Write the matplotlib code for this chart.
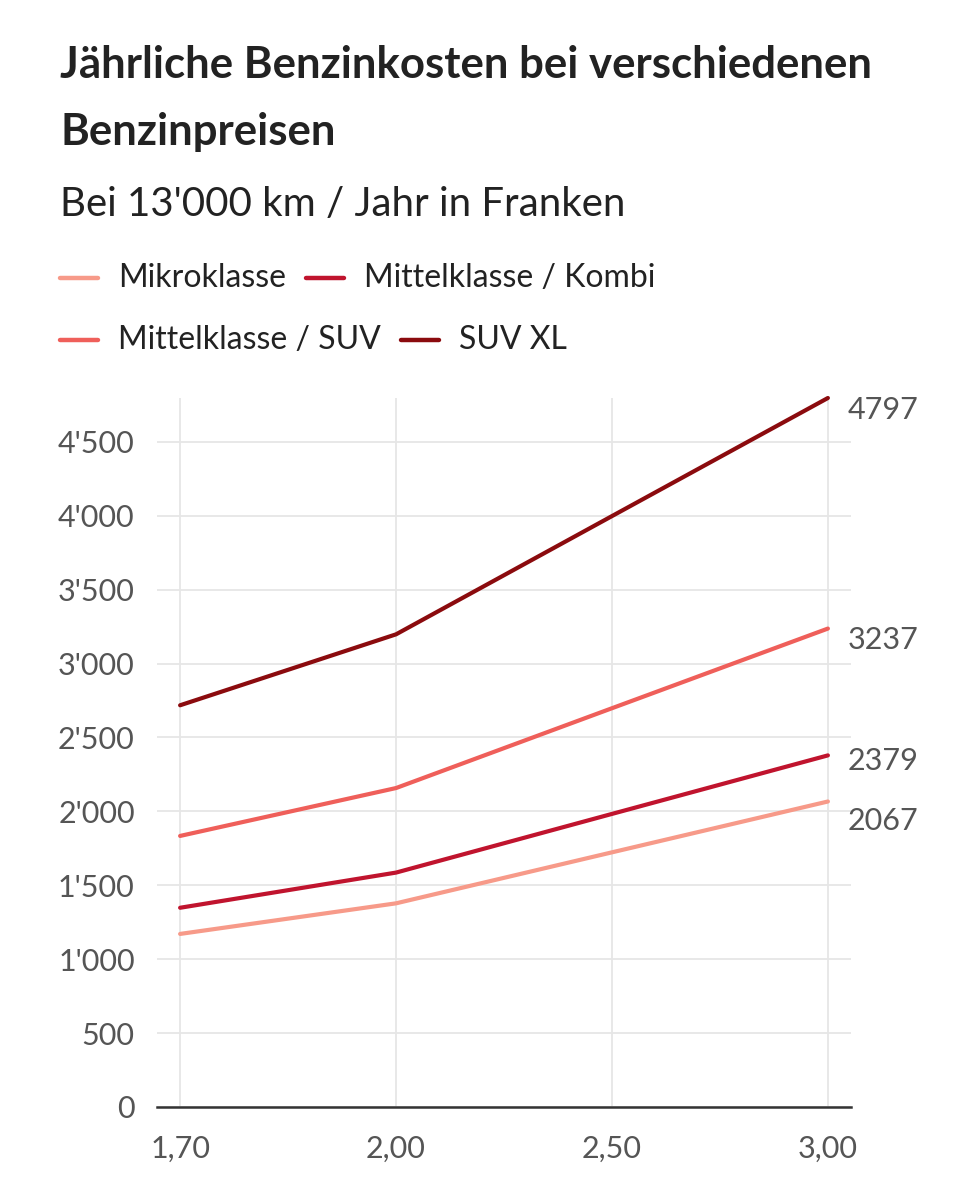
import matplotlib
matplotlib.use("Agg")
import matplotlib.pyplot as plt
from matplotlib.lines import Line2D
from matplotlib.ticker import FuncFormatter

plt.rcParams['font.family'] = ['Lato', 'DejaVu Sans']

# data (Franken pro Jahr, 13'000 km)
prices = ["1,70", "2,00", "2,50", "3,00"]
series_names = ["Mikroklasse", "Mittelklasse / Kombi", "Mittelklasse / SUV", "SUV XL"]
mikro = [1171, 1378, 1723, 2067]
kombi = [1348, 1586, 1983, 2379]
suv = [1834, 2158, 2698, 3237]
suv_xl = [2718, 3198, 3998, 4797]
yticks = [0, 500, 1000, 1500, 2000, 2500, 3000, 3500, 4000, 4500]

colors = ["#f79a89", "#c0142e", "#ef5f5a", "#8b0b0e"]
all_series = [mikro, kombi, suv, suv_xl]

W, H = 965, 1200
fig = plt.figure(figsize=(W / 100, H / 100), dpi=100)
fig.patch.set_facecolor("white")

# axes placed in pixel terms of the reference
left, right, bottom, top = 157, 851, 1107, 398
ax = fig.add_axes([left / W, 1 - bottom / H, (right - left) / W, (bottom - top) / H])

x = list(range(len(prices)))
for vals, col in zip(all_series, colors):
    ax.plot(x, vals, color=col, lw=3.0, solid_capstyle="round", solid_joinstyle="round",
            zorder=3, clip_on=False)

ax.set_xlim(-0.107, 3.107)
ax.set_ylim(0, 4797)
ax.set_xticks(x)
ax.set_xticklabels(prices)
ax.set_yticks(yticks)
ax.yaxis.set_major_formatter(FuncFormatter(lambda v, p: f"{int(v):,}".replace(",", "'")))

ax.grid(True, color="#e6e6e6", lw=1.3, zorder=0)
for s in ["top", "right", "left"]:
    ax.spines[s].set_visible(False)
ax.spines["bottom"].set_color("#333333")
ax.spines["bottom"].set_linewidth(1.8)
ax.spines["bottom"].set_zorder(4)
ax.tick_params(axis="both", length=0, labelsize=22, labelcolor="#555555")
ax.tick_params(axis="y", pad=16)
ax.tick_params(axis="x", pad=20)

# end labels (small offsets keep the two lower ones apart)
offsets = [-6, 8, 3, 2]
for vals, off in zip(all_series, offsets):
    ax.annotate(str(vals[-1]), xy=(x[-1], vals[-1]), xytext=(20, off),
                textcoords="offset pixels", ha="left", va="top",
                fontsize=22, color="#555555")

# titles
fig.text(60 / W, 1 - 65 / H, "Jährliche Benzinkosten bei verschiedenen", fontsize=31.5,
         fontweight="bold", color="#222222", va="center", ha="left")
fig.text(60 / W, 1 - 132 / H, "Benzinpreisen", fontsize=31.5,
         fontweight="bold", color="#222222", va="center", ha="left")
fig.text(60 / W, 1 - 204 / H, "Bei 13'000 km / Jahr in Franken", fontsize=29,
         color="#222222", va="center", ha="left")

# legend, flowing like the original
fig.canvas.draw()
renderer = fig.canvas.get_renderer()
rows = [[0, 1], [2, 3]]
row_y = [278, 340]
for row, yy in zip(rows, row_y):
    xx = 60
    for i in row:
        fig.add_artist(Line2D([xx / W, (xx + 38) / W], [1 - yy / H, 1 - yy / H],
                              transform=fig.transFigure, color=colors[i], lw=3.2,
                              solid_capstyle="round"))
        t = fig.text((xx + 58) / W, 1 - yy / H, series_names[i], fontsize=23,
                     color="#222222", va="center", ha="left")
        bb = t.get_window_extent(renderer)
        xx = bb.x1 + 20

fig.savefig("out.png", dpi=100, facecolor="white")
